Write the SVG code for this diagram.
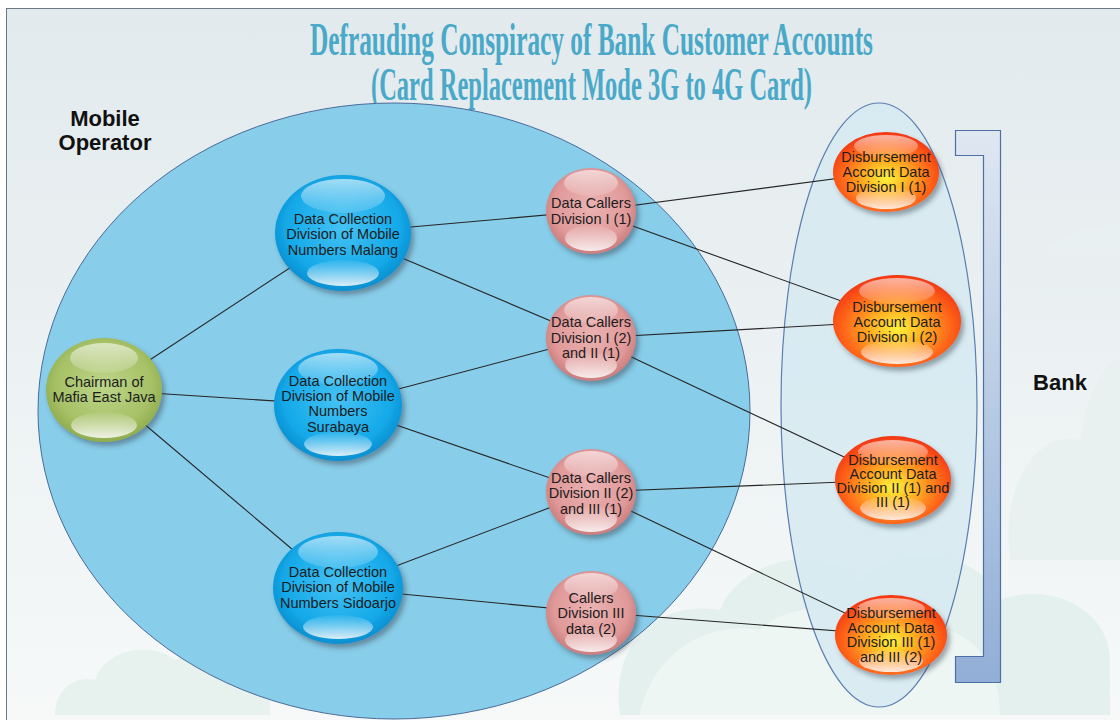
<svg xmlns="http://www.w3.org/2000/svg" width="1120" height="720" viewBox="0 0 1120 720">
<defs>
<linearGradient id="bg" x1="0" y1="0" x2="0" y2="1">
<stop offset="0" stop-color="#e2eaed"/><stop offset="0.6" stop-color="#eef3f4"/><stop offset="1" stop-color="#f7f9f9"/>
</linearGradient>
<radialGradient id="gBlue" cx="0.5" cy="0.45" r="0.55">
<stop offset="0" stop-color="#45c2f3"/><stop offset="0.75" stop-color="#14a9e9"/><stop offset="1" stop-color="#0a8fd0"/>
</radialGradient>
<radialGradient id="gGreen" cx="0.5" cy="0.45" r="0.55">
<stop offset="0" stop-color="#bdd58a"/><stop offset="0.75" stop-color="#a6c166"/><stop offset="1" stop-color="#8fac4d"/>
</radialGradient>
<radialGradient id="gPink" cx="0.5" cy="0.45" r="0.55">
<stop offset="0" stop-color="#ebb2b2"/><stop offset="0.75" stop-color="#e09999"/><stop offset="1" stop-color="#cc7c7c"/>
</radialGradient>
<radialGradient id="gRed" cx="0.5" cy="0.58" r="0.58">
<stop offset="0" stop-color="#fff23a"/><stop offset="0.35" stop-color="#ffb224"/><stop offset="0.7" stop-color="#ff6a1a"/><stop offset="1" stop-color="#f23512"/>
</radialGradient>
<linearGradient id="hiTop" x1="0" y1="0" x2="0" y2="1">
<stop offset="0" stop-color="#fff" stop-opacity="0.6"/><stop offset="1" stop-color="#fff" stop-opacity="0.12"/>
</linearGradient>
<linearGradient id="hiBot" x1="0" y1="0" x2="0" y2="1">
<stop offset="0" stop-color="#fff" stop-opacity="0.05"/><stop offset="1" stop-color="#fff" stop-opacity="0.85"/>
</linearGradient>
<linearGradient id="gBracket" x1="0" y1="0" x2="0" y2="1">
<stop offset="0" stop-color="#dfe7f1"/><stop offset="1" stop-color="#91aed6"/>
</linearGradient>
<filter id="sh" x="-20%" y="-20%" width="150%" height="150%">
<feDropShadow dx="3" dy="4" stdDeviation="2.5" flood-color="#304050" flood-opacity="0.45"/>
</filter>
<style>
.nt{font-family:"Liberation Sans",Arial,sans-serif;font-size:14.5px;fill:#1c1c1c;text-anchor:middle}
.lbl{font-family:"Liberation Sans",Arial,sans-serif;font-size:22px;font-weight:bold;fill:#111;text-anchor:middle}
.title{font-family:"Liberation Serif","Times New Roman",serif;font-weight:bold;font-size:46px;fill:#4aa9c9;text-anchor:middle}
.conn line{stroke:#252525;stroke-width:1.1}
.hiT{fill:url(#hiTop)}
.hiB{fill:url(#hiBot)}
</style>
</defs>

<!-- background -->
<rect x="0" y="0" width="1120" height="720" fill="#ffffff"/>
<rect x="6.5" y="8.5" width="1120" height="720" fill="url(#bg)" stroke="#6a7888" stroke-width="1"/>
<g id="clouds" opacity="0.9">
<path d="M60,400 C60,300 130,250 200,260 C220,180 300,140 360,170 C400,120 480,130 500,180 L500,400 Z" fill="#eaf1f2"/>
<path d="M620,715 C610,640 660,600 720,610 C740,560 820,540 860,580 C900,540 980,550 1000,600 C1050,580 1110,610 1110,660 L1110,715 Z" fill="#e3f0ec"/>
<path d="M640,715 C650,660 700,620 760,630 C790,600 860,600 880,640 C930,610 1000,630 1000,715 Z" fill="#eef6f3"/>
<path d="M55,715 C55,690 75,675 95,680 C105,650 150,640 175,660 C200,645 250,650 270,680 L270,715 Z" fill="#e6f1ec"/>
<path d="M1010,560 C1000,480 1040,430 1080,440 C1090,380 1110,360 1120,360 L1120,560 Z" fill="#e8f1f0"/>
<path d="M1030,300 C1030,250 1070,220 1120,225 L1120,300 Z" fill="#e9f0f1"/>
</g>

<!-- title -->
<g id="title" transform="scale(0.55,1)">
<text class="title" x="1075.45" y="55" textLength="1023.6" lengthAdjust="spacingAndGlyphs">Defrauding Conspiracy of Bank Customer Accounts</text>
<text class="title" x="1075.45" y="100" textLength="801.8" lengthAdjust="spacingAndGlyphs">(Card Replacement Mode 3G to 4G Card)</text>
</g>

<!-- containers -->
<g id="mobile-operator">
<ellipse cx="394" cy="411" rx="356" ry="308" fill="#88cde9" stroke="#4a6b9a" stroke-width="1"/>
<text class="lbl" x="105" y="126">Mobile</text>
<text class="lbl" x="105" y="150">Operator</text>
</g>
<g id="bank">
<ellipse cx="879" cy="405" rx="98" ry="302" fill="#d6eaf1" fill-opacity="0.85" stroke="#5a7db2" stroke-width="1.2"/>
<path d="M955.5,130.5 H1000.5 V682.5 H955.5 V656.5 H983.5 V155.5 H955.5 Z" fill="url(#gBracket)" stroke="#4e6fa6" stroke-width="1.2"/>
<text class="lbl" x="1060" y="390">Bank</text>
</g>

<!-- connectors -->
<g id="connectors" class="conn">
<line x1="104" y1="390" x2="343" y2="233"/>
<line x1="104" y1="390" x2="338" y2="405"/>
<line x1="104" y1="390" x2="338" y2="588"/>
<line x1="343" y1="233" x2="591" y2="211"/>
<line x1="343" y1="233" x2="591" y2="338"/>
<line x1="338" y1="405" x2="591" y2="338"/>
<line x1="338" y1="405" x2="591" y2="492"/>
<line x1="338" y1="588" x2="591" y2="492"/>
<line x1="338" y1="588" x2="591" y2="612"/>
<line x1="591" y1="211" x2="886" y2="172"/>
<line x1="591" y1="211" x2="897" y2="321"/>
<line x1="591" y1="338" x2="897" y2="321"/>
<line x1="591" y1="338" x2="893" y2="480"/>
<line x1="591" y1="492" x2="893" y2="480"/>
<line x1="591" y1="492" x2="891" y2="635"/>
<line x1="591" y1="612" x2="891" y2="635"/>
</g>

<!-- nodes -->
<g id="chairman">
<ellipse cx="104" cy="390" rx="58" ry="52" fill="url(#gGreen)" filter="url(#sh)"/>
<ellipse class="hiT" cx="104" cy="358" rx="34" ry="15"/>
<ellipse class="hiB" cx="104" cy="425" rx="33" ry="13"/>
<text class="nt" x="104" y="387">Chairman of</text>
<text class="nt" x="104" y="402">Mafia East Java</text>
</g>

<g id="dc-malang">
<ellipse cx="343" cy="233" rx="68" ry="58" fill="url(#gBlue)" filter="url(#sh)"/>
<ellipse class="hiT" cx="343" cy="196" rx="42" ry="17"/>
<ellipse class="hiB" cx="343" cy="273" rx="36" ry="13"/>
<text class="nt" x="343" y="224">Data Collection</text>
<text class="nt" x="343" y="239">Division of Mobile</text>
<text class="nt" x="343" y="255">Numbers Malang</text>
</g>

<g id="dc-surabaya">
<ellipse cx="338" cy="405" rx="64" ry="56" fill="url(#gBlue)" filter="url(#sh)"/>
<ellipse class="hiT" cx="338" cy="369" rx="40" ry="16"/>
<ellipse class="hiB" cx="338" cy="444" rx="34" ry="12"/>
<text class="nt" x="338" y="386">Data Collection</text>
<text class="nt" x="338" y="401">Division of Mobile</text>
<text class="nt" x="338" y="416">Numbers</text>
<text class="nt" x="338" y="432">Surabaya</text>
</g>

<g id="dc-sidoarjo">
<ellipse cx="338" cy="588" rx="65" ry="56" fill="url(#gBlue)" filter="url(#sh)"/>
<ellipse class="hiT" cx="338" cy="552" rx="40" ry="16"/>
<ellipse class="hiB" cx="338" cy="627" rx="35" ry="12"/>
<text class="nt" x="338" y="577">Data Collection</text>
<text class="nt" x="338" y="592">Division of Mobile</text>
<text class="nt" x="338" y="608">Numbers Sidoarjo</text>
</g>

<g id="callers-1">
<ellipse cx="591" cy="211" rx="45" ry="43" fill="url(#gPink)" filter="url(#sh)"/>
<ellipse class="hiT" cx="591" cy="183" rx="27" ry="13"/>
<ellipse class="hiB" cx="591" cy="238" rx="26" ry="13"/>
<text class="nt" x="591" y="208">Data Callers</text>
<text class="nt" x="591" y="224">Division I (1)</text>
</g>

<g id="callers-2">
<ellipse cx="591" cy="338" rx="45" ry="43" fill="url(#gPink)" filter="url(#sh)"/>
<ellipse class="hiT" cx="591" cy="310" rx="27" ry="13"/>
<ellipse class="hiB" cx="591" cy="365" rx="26" ry="13"/>
<text class="nt" x="591" y="327">Data Callers</text>
<text class="nt" x="591" y="343">Division I (2)</text>
<text class="nt" x="591" y="358">and II (1)</text>
</g>

<g id="callers-3">
<ellipse cx="591" cy="492" rx="45" ry="43" fill="url(#gPink)" filter="url(#sh)"/>
<ellipse class="hiT" cx="591" cy="464" rx="27" ry="13"/>
<ellipse class="hiB" cx="591" cy="519" rx="26" ry="13"/>
<text class="nt" x="591" y="483">Data Callers</text>
<text class="nt" x="591" y="498">Division II (2)</text>
<text class="nt" x="591" y="514">and III (1)</text>
</g>

<g id="callers-4">
<ellipse cx="591" cy="613" rx="45" ry="42" fill="url(#gPink)" filter="url(#sh)"/>
<ellipse class="hiT" cx="591" cy="586" rx="27" ry="13"/>
<ellipse class="hiB" cx="591" cy="640" rx="26" ry="12"/>
<text class="nt" x="591" y="603">Callers</text>
<text class="nt" x="591" y="618">Division III</text>
<text class="nt" x="591" y="634">data (2)</text>
</g>

<g id="disb-1">
<ellipse cx="886" cy="172" rx="53" ry="40" fill="url(#gRed)" filter="url(#sh)"/>
<ellipse class="hiT" cx="886" cy="146" rx="32" ry="11"/>
<ellipse class="hiB" cx="886" cy="198" rx="30" ry="11"/>
<text class="nt" x="886" y="162">Disbursement</text>
<text class="nt" x="886" y="177">Account Data</text>
<text class="nt" x="886" y="192">Division I (1)</text>
</g>

<g id="disb-2">
<ellipse cx="897" cy="321" rx="64" ry="46" fill="url(#gRed)" filter="url(#sh)"/>
<ellipse class="hiT" cx="897" cy="291" rx="38" ry="13"/>
<ellipse class="hiB" cx="897" cy="352" rx="36" ry="12"/>
<text class="nt" x="897" y="312">Disbursement</text>
<text class="nt" x="897" y="327">Account Data</text>
<text class="nt" x="897" y="342">Division I (2)</text>
</g>

<g id="disb-3">
<ellipse cx="893" cy="480" rx="58" ry="44" fill="url(#gRed)" filter="url(#sh)"/>
<ellipse class="hiT" cx="893" cy="452" rx="35" ry="12"/>
<ellipse class="hiB" cx="893" cy="508" rx="33" ry="12"/>
<text class="nt" x="893" y="465">Disbursement</text>
<text class="nt" x="893" y="479">Account Data</text>
<text class="nt" x="893" y="493">Division II (1) and</text>
<text class="nt" x="893" y="507">III (1)</text>
</g>

<g id="disb-4">
<ellipse cx="891" cy="635" rx="56" ry="40" fill="url(#gRed)" filter="url(#sh)"/>
<ellipse class="hiT" cx="891" cy="609" rx="34" ry="11"/>
<ellipse class="hiB" cx="891" cy="661" rx="32" ry="11"/>
<text class="nt" x="891" y="618">Disbursement</text>
<text class="nt" x="891" y="633">Account Data</text>
<text class="nt" x="891" y="647">Division III (1)</text>
<text class="nt" x="891" y="662">and III (2)</text>
</g>
</svg>
